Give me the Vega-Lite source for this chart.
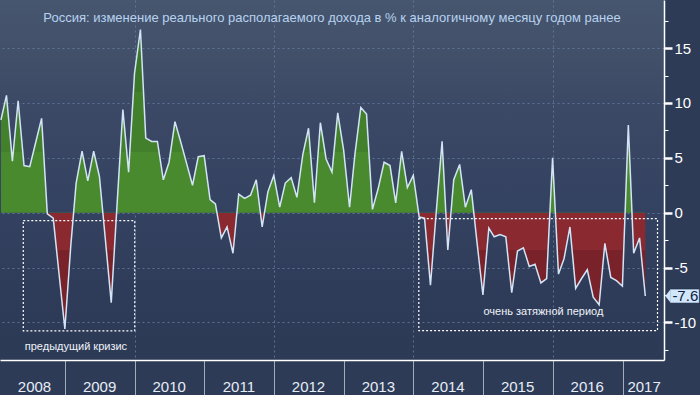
{
  "$schema": "https://vega.github.io/schema/vega-lite/v6.json",
  "width": 664,
  "height": 360,
  "autosize": "none",
  "padding": {"left": 0, "top": 0, "right": 36, "bottom": 35},
  "background": "#2e3b57",
  "view": {
    "stroke": null,
    "fill": {"gradient": "linear", "x1": 0, "y1": 0, "x2": 0, "y2": 1,
      "stops": [
        {"offset": 0, "color": "#47566f"},
        {"offset": 0.14, "color": "#425069"},
        {"offset": 0.3, "color": "#3b4966"},
        {"offset": 0.58, "color": "#344261"},
        {"offset": 0.8, "color": "#2f3c59"},
        {"offset": 1, "color": "#2d3a56"}
      ]}
  },
  "title": {
    "text": "Россия: изменение реального располагаемого дохода в % к аналогичному месяцу годом ранее",
    "orient": "top",
    "anchor": "middle",
    "offset": -35,
    "baseline": "alphabetic",
    "color": "#b7d2f0",
    "fontSize": 13,
    "fontWeight": "normal",
    "font": "Liberation Sans"
  },
  "resolve": {"scale": {"y": "independent"}, "axis": {"y": "independent"}},
  "datasets": {
    "income": [
      {"date": "2008-01-31", "value": 8.45}, {"date": "2008-02-29", "value": 10.7}, {"date": "2008-03-31", "value": 4.7}, {"date": "2008-04-30", "value": 10.2},
      {"date": "2008-05-31", "value": 4.3}, {"date": "2008-06-30", "value": 4.2}, {"date": "2008-07-31", "value": 6.4}, {"date": "2008-08-31", "value": 8.6},
      {"date": "2008-09-30", "value": -0.1}, {"date": "2008-10-31", "value": -0.5}, {"date": "2008-11-30", "value": -5.5}, {"date": "2008-12-31", "value": -10.6},
      {"date": "2009-01-31", "value": -3.0}, {"date": "2009-02-28", "value": 2.7}, {"date": "2009-03-31", "value": 5.6}, {"date": "2009-04-30", "value": 2.9},
      {"date": "2009-05-31", "value": 5.6}, {"date": "2009-06-30", "value": 3.3}, {"date": "2009-07-31", "value": -2.4}, {"date": "2009-08-31", "value": -8.2},
      {"date": "2009-09-30", "value": 0.6}, {"date": "2009-10-31", "value": 9.4}, {"date": "2009-11-30", "value": 3.7}, {"date": "2009-12-31", "value": 12.7},
      {"date": "2010-01-31", "value": 16.7}, {"date": "2010-02-28", "value": 6.8}, {"date": "2010-03-31", "value": 6.5}, {"date": "2010-04-30", "value": 6.5},
      {"date": "2010-05-31", "value": 3.0}, {"date": "2010-06-30", "value": 4.6}, {"date": "2010-07-31", "value": 8.3}, {"date": "2010-08-31", "value": 6.4},
      {"date": "2010-09-30", "value": 4.5}, {"date": "2010-10-31", "value": 2.5}, {"date": "2010-11-30", "value": 5.1}, {"date": "2010-12-31", "value": 5.2},
      {"date": "2011-01-31", "value": 1.2}, {"date": "2011-02-28", "value": 0.8}, {"date": "2011-03-31", "value": -2.3}, {"date": "2011-04-30", "value": -1.3},
      {"date": "2011-05-31", "value": -3.7}, {"date": "2011-06-30", "value": 1.7}, {"date": "2011-07-31", "value": 1.3}, {"date": "2011-08-31", "value": 1.6},
      {"date": "2011-09-30", "value": 3.0}, {"date": "2011-10-31", "value": -1.3}, {"date": "2011-11-30", "value": 1.9}, {"date": "2011-12-31", "value": 3.4},
      {"date": "2012-01-31", "value": 0.5}, {"date": "2012-02-29", "value": 2.7}, {"date": "2012-03-31", "value": 3.2}, {"date": "2012-04-30", "value": 1.4},
      {"date": "2012-05-31", "value": 5.3}, {"date": "2012-06-30", "value": 7.7}, {"date": "2012-07-31", "value": 0.9}, {"date": "2012-08-31", "value": 8.2},
      {"date": "2012-09-30", "value": 4.9}, {"date": "2012-10-31", "value": 3.7}, {"date": "2012-11-30", "value": 9.1}, {"date": "2012-12-31", "value": 5.7},
      {"date": "2013-01-31", "value": 0.5}, {"date": "2013-02-28", "value": 5.3}, {"date": "2013-03-31", "value": 9.6}, {"date": "2013-04-30", "value": 9.0},
      {"date": "2013-05-31", "value": 0.3}, {"date": "2013-06-30", "value": 2.2}, {"date": "2013-07-31", "value": 4.6}, {"date": "2013-08-31", "value": 4.3},
      {"date": "2013-09-30", "value": 0.9}, {"date": "2013-10-31", "value": 5.6}, {"date": "2013-11-30", "value": 2.3}, {"date": "2013-12-31", "value": 3.4},
      {"date": "2014-01-31", "value": -0.4}, {"date": "2014-02-28", "value": -0.5}, {"date": "2014-03-31", "value": -6.6}, {"date": "2014-04-30", "value": 0.0},
      {"date": "2014-05-31", "value": 6.5}, {"date": "2014-06-30", "value": -3.4}, {"date": "2014-07-31", "value": 3.0}, {"date": "2014-08-31", "value": 4.4},
      {"date": "2014-09-30", "value": 0.5}, {"date": "2014-10-31", "value": 2.1}, {"date": "2014-11-30", "value": -2.7}, {"date": "2014-12-31", "value": -7.5},
      {"date": "2015-01-31", "value": -1.4}, {"date": "2015-02-28", "value": -2.2}, {"date": "2015-03-31", "value": -2.0}, {"date": "2015-04-30", "value": -2.2},
      {"date": "2015-05-31", "value": -7.3}, {"date": "2015-06-30", "value": -3.5}, {"date": "2015-07-31", "value": -3.2}, {"date": "2015-08-31", "value": -4.9},
      {"date": "2015-09-30", "value": -4.7}, {"date": "2015-10-31", "value": -6.4}, {"date": "2015-11-30", "value": -6.0}, {"date": "2015-12-31", "value": 5.0},
      {"date": "2016-01-31", "value": -5.6}, {"date": "2016-02-29", "value": -4.2}, {"date": "2016-03-31", "value": -1.3}, {"date": "2016-04-30", "value": -6.9},
      {"date": "2016-05-31", "value": -6.0}, {"date": "2016-06-30", "value": -5.2}, {"date": "2016-07-31", "value": -7.7}, {"date": "2016-08-31", "value": -8.4},
      {"date": "2016-09-30", "value": -2.8}, {"date": "2016-10-31", "value": -5.9}, {"date": "2016-11-30", "value": -6.2}, {"date": "2016-12-31", "value": -6.7},
      {"date": "2017-01-31", "value": 8.0}, {"date": "2017-02-28", "value": -3.7}, {"date": "2017-03-31", "value": -2.3}, {"date": "2017-04-30", "value": -7.6}
    ],
    "boxes": [
      {"start": "2008-05-27", "end": "2010-01-01", "top": -0.73, "bottom": -10.78},
      {"start": "2014-01-29", "end": "2017-07-03", "top": -0.55, "bottom": -10.75}
    ],
    "notes": [
      {"date": "2009-02-27", "value": -12.24, "text": "предыдущий кризис"},
      {"date": "2015-11-13", "value": -9.08, "text": "очень затяжной период"}
    ]
  },
  "layer": [
    {
      "data": {"name": "income"},
      "mark": {
        "type": "area",
        "fill": {"gradient": "linear", "x1": 0, "y1": 0, "x2": 0, "y2": 1,
          "stops": [
            {"offset": 0, "color": "#3d7729"},
            {"offset": 0.2088, "color": "#3d7729"},
            {"offset": 0.2088, "color": "#43802b"},
            {"offset": 0.4103, "color": "#43802b"},
            {"offset": 0.4103, "color": "#4a8a2e"},
            {"offset": 0.6117, "color": "#4a8a2e"},
            {"offset": 0.6117, "color": "#8a2930"},
            {"offset": 0.7363, "color": "#8a2930"},
            {"offset": 0.7363, "color": "#7a2229"},
            {"offset": 1, "color": "#7a2229"}
          ]},
        "opacity": 1
      },
      "encoding": {
        "x": {
          "field": "date", "type": "temporal", "title": null,
          "scale": {"type": "utc", "domain": [{"year": 2008, "month": 1, "date": 26, "utc": true}, {"year": 2017, "month": 8, "date": 6, "utc": true}]},
          "axis": {
            "values": [
              {"year": 2008, "month": 1, "date": 26, "utc": true}, {"year": 2009, "month": 1, "date": 1, "utc": true},
              {"year": 2010, "month": 1, "date": 1, "utc": true}, {"year": 2011, "month": 1, "date": 1, "utc": true},
              {"year": 2012, "month": 1, "date": 1, "utc": true}, {"year": 2013, "month": 1, "date": 1, "utc": true},
              {"year": 2014, "month": 1, "date": 1, "utc": true}, {"year": 2015, "month": 1, "date": 1, "utc": true},
              {"year": 2016, "month": 1, "date": 1, "utc": true}, {"year": 2017, "month": 1, "date": 1, "utc": true}
            ],
            "labelExpr": "utcFormat(datum.value, '%Y')",
            "labelOffset": {"condition": {"test": "utcyear(datum.value) == 2017", "value": 21}, "value": 34},
            "labelAlign": "center",
            "labelBaseline": "alphabetic",
            "labelPadding": -4,
            "labelFlush": false,
            "labelOverlap": false,
            "labelBound": false,
            "labelColor": "#e6edf6",
            "labelFontSize": 15,
            "labelFont": "Liberation Sans Narrow, Liberation Sans",
            "tickSize": 35,
            "tickColor": {"condition": {"test": "utcyear(datum.value) == 2008", "value": "transparent"}, "value": "#a3acb9"},
            "tickWidth": 1,
            "domainColor": "#ffffff",
            "domainWidth": 1.5,
            "grid": true,
            "gridColor": "#62799a",
            "gridDash": [2, 3],
            "gridWidth": 1,
            "gridOpacity": {"condition": {"test": "utcyear(datum.value) % 2 == 0 && utcyear(datum.value) > 2008", "value": 0.9}, "value": 0}
          }
        },
        "y": {
          "field": "value", "type": "quantitative", "title": null,
          "scale": {"domain": [-13.43, 19.39], "nice": false, "zero": false},
          "axis": {
            "orient": "right",
            "values": [-10, -5, 0, 5, 10, 15],
            "labelExpr": "'' + datum.value",
            "labelColor": "#ffffff",
            "labelFontSize": 15,
            "labelFont": "Liberation Sans Narrow, Liberation Sans",
            "labelPadding": 2,
            "labelBaseline": "middle",
            "labelOverlap": false,
            "labelFlush": false,
            "tickColor": "#ffffff",
            "tickSize": 8,
            "tickWidth": 2.5,
            "domainColor": "#ffffff",
            "domainWidth": 1.5,
            "grid": true,
            "gridColor": "#62799a",
            "gridDash": [2, 3],
            "gridWidth": 1,
            "gridOpacity": 0.9
          }
        },
        "y2": {"datum": 0}
      }
    },
    {
      "data": {"name": "boxes"},
      "mark": {"type": "rect", "fill": null, "stroke": "#ffffff", "strokeWidth": 1.2, "strokeDash": [2, 2]},
      "encoding": {
        "x": {"field": "start", "type": "temporal", "title": null},
        "x2": {"field": "end"},
        "y": {"field": "top", "type": "quantitative", "title": null, "axis": null, "scale": {"domain": [-13.43, 19.39], "nice": false, "zero": false}},
        "y2": {"field": "bottom"}
      }
    },
    {
      "data": {"name": "income"},
      "mark": {"type": "line", "stroke": "#d2e4f6", "strokeWidth": 1.5, "interpolate": "linear"},
      "encoding": {
        "x": {"field": "date", "type": "temporal", "title": null},
        "y": {
          "field": "value", "type": "quantitative", "title": null,
          "scale": {"domain": [-13.43, 19.39], "nice": false, "zero": false},
          "axis": {
            "orient": "right",
            "values": [-12.5, -7.5, -2.5, 2.5, 7.5, 12.5, 17.5],
            "labels": false,
            "grid": false,
            "domain": false,
            "tickColor": "#ffffff",
            "tickSize": 4,
            "tickWidth": 1
          }
        }
      }
    },
    {
      "data": {"name": "notes"},
      "mark": {"type": "text", "color": "#eef3f9", "fontSize": 11, "font": "Liberation Sans", "align": "center", "baseline": "middle"},
      "encoding": {
        "x": {"field": "date", "type": "temporal", "title": null},
        "y": {"field": "value", "type": "quantitative", "title": null, "axis": null, "scale": {"domain": [-13.43, 19.39], "nice": false, "zero": false}},
        "text": {"field": "text"}
      }
    },
    {
      "data": {"name": "income"},
      "transform": [{"filter": "utcyear(datum.date) == 2017 && utcmonth(datum.date) == 3"}],
      "mark": {"type": "rect", "fill": "#cfe6fb", "stroke": "#1c2a44", "strokeWidth": 0.5, "xOffset": 25, "x2Offset": 54, "yOffset": -7, "y2Offset": 7},
      "encoding": {
        "x": {"field": "date", "type": "temporal", "title": null},
        "x2": {"field": "date"},
        "y": {"field": "value", "type": "quantitative", "title": null, "axis": null, "scale": {"domain": [-13.43, 19.39], "nice": false, "zero": false}},
        "y2": {"field": "value"}
      }
    },
    {
      "data": {"name": "income"},
      "transform": [{"filter": "utcyear(datum.date) == 2017 && utcmonth(datum.date) == 3"}],
      "mark": {"type": "point", "shape": "M-1,0L1.2,-2.8L1.2,2.8Z", "size": 25, "filled": true, "fill": "#cfe6fb", "strokeWidth": 0, "opacity": 1, "xOffset": 22.5},
      "encoding": {
        "x": {"field": "date", "type": "temporal", "title": null},
        "y": {"field": "value", "type": "quantitative", "title": null, "axis": null, "scale": {"domain": [-13.43, 19.39], "nice": false, "zero": false}}
      }
    },
    {
      "data": {"name": "income"},
      "transform": [{"filter": "utcyear(datum.date) == 2017 && utcmonth(datum.date) == 3"}, {"calculate": "'' + datum.value", "as": "label"}],
      "mark": {"type": "text", "color": "#13203a", "fontSize": 15, "font": "Liberation Sans Narrow, Liberation Sans", "align": "center", "baseline": "middle", "xOffset": 40},
      "encoding": {
        "x": {"field": "date", "type": "temporal", "title": null},
        "y": {"field": "value", "type": "quantitative", "title": null, "axis": null, "scale": {"domain": [-13.43, 19.39], "nice": false, "zero": false}},
        "text": {"field": "label"}
      }
    }
  ]
}
